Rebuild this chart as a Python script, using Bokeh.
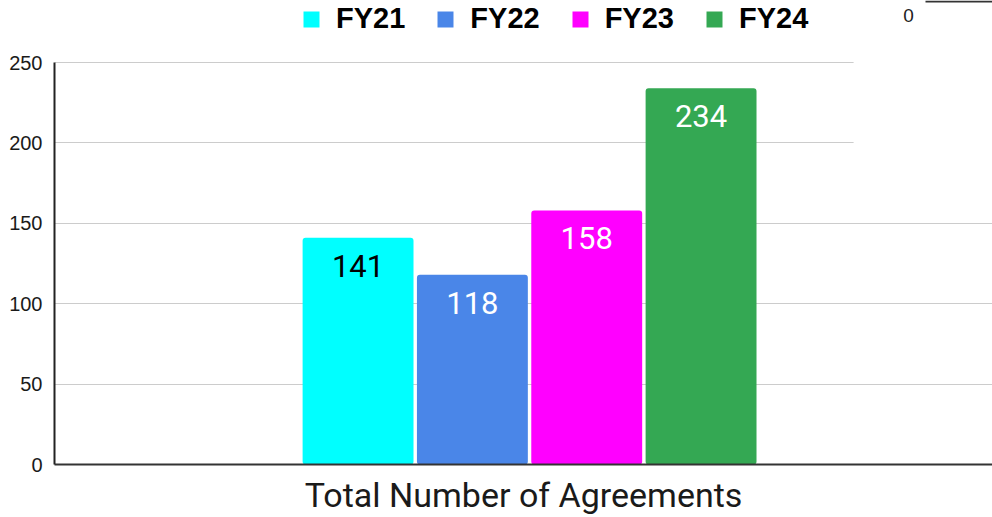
from bokeh.plotting import figure
from bokeh.models import ColumnDataSource, Range1d, FixedTicker, BoxAnnotation, Label
from bokeh.embed import file_html
from bokeh.resources import INLINE
from bokeh.core.properties import value

# ---- data ----
categories = ["Total Number of Agreements"]
series = ["FY21", "FY22", "FY23", "FY24"]
values = [141, 118, 158, 234]
colors = ["#00ffff", "#4a86e8", "#ff00ff", "#34a853"]
label_colors = ["#000000", "#ffffff", "#ffffff", "#ffffff"]
y_ticks = [0, 50, 100, 150, 200, 250]

src = ColumnDataSource(dict(
    x=list(range(len(series))),
    value=values,
    series=series,
    color=colors,
    label=[str(v) for v in values],
    label_color=label_colors,
))

# frame reaches the top edge so the legend (drawn inside the frame) is visible;
# the axis itself is bounded to 0..250
p = figure(width=992, height=517, output_backend="svg", toolbar_location=None,
           x_range=Range1d(-2.655, 5.549), y_range=Range1d(0, 288.56),
           min_border_left=54, min_border_right=0, min_border_top=0, min_border_bottom=52)
p.outline_line_color = None
p.background_fill_color = "white"
p.border_fill_color = "white"

p.vbar(x="x", top="value", width=0.97, source=src, fill_color="color", line_color=None,
       legend_field="series", border_radius=3)
p.text(x="x", y="value", text="label", text_color="label_color", source=src,
       text_font=value("Roboto"), text_font_size="31px", text_align="center",
       text_baseline="middle", y_offset=28)

# y axis
p.yaxis.bounds = (y_ticks[0], y_ticks[-1])
p.yaxis.ticker = FixedTicker(ticks=y_ticks)
p.yaxis.major_tick_line_color = None
p.yaxis.minor_tick_line_color = None
p.yaxis.axis_line_color = "#222222"
p.yaxis.axis_line_width = 2
p.yaxis.major_label_text_font = "Liberation Sans"
p.yaxis.major_label_text_font_size = "20px"
p.yaxis.major_label_text_color = "#1a1a1a"
p.yaxis.major_label_standoff = 6

# x axis
p.xaxis.ticker = FixedTicker(ticks=[])
p.xaxis.major_label_text_font_size = "0px"
p.xaxis.major_tick_line_color = None
p.xaxis.minor_tick_line_color = None
p.xaxis.axis_line_color = "#333333"
p.xaxis.axis_line_width = 2
p.xaxis.axis_label = categories[0]
p.xaxis.axis_label_text_font = "Roboto"
p.xaxis.axis_label_text_font_style = "normal"
p.xaxis.axis_label_text_font_size = "34px"
p.xaxis.axis_label_text_color = "#1a1a1a"
p.xaxis.axis_label_standoff = 10

p.xgrid.visible = False
p.ygrid.ticker = FixedTicker(ticks=y_ticks)
p.ygrid.grid_line_color = "#cccccc"
p.ygrid.grid_line_width = 1

# legend
lg = p.legend[0]
lg.orientation = "horizontal"
lg.location = (247, 429)
lg.border_line_color = None
lg.background_fill_alpha = 0
lg.padding = 0
lg.margin = 0
lg.spacing = 30
lg.label_standoff = 15
lg.glyph_width = 20
lg.glyph_height = 20
lg.label_text_font = "Liberation Sans"
lg.label_text_font_style = "bold"
lg.label_text_font_size = "29px"
lg.label_text_color = "#000000"

# overlapping fragment seen at the top right of the source image
p.add_layout(BoxAnnotation(left=4.334, bottom=175, fill_color="white", fill_alpha=1,
                           line_alpha=0))
p.add_layout(Label(x=854, y=449, x_units="screen", y_units="screen", text="0",
                   text_font="Liberation Sans", text_font_size="19px", text_color="#222222",
                   text_align="center", text_baseline="alphabetic"))
p.add_layout(BoxAnnotation(left=871, right=940, bottom=462, top=464,
                           left_units="screen", right_units="screen",
                           bottom_units="screen", top_units="screen",
                           fill_color="#333333", fill_alpha=1, line_alpha=0))

open("out.html", "w").write(file_html(p, INLINE))
